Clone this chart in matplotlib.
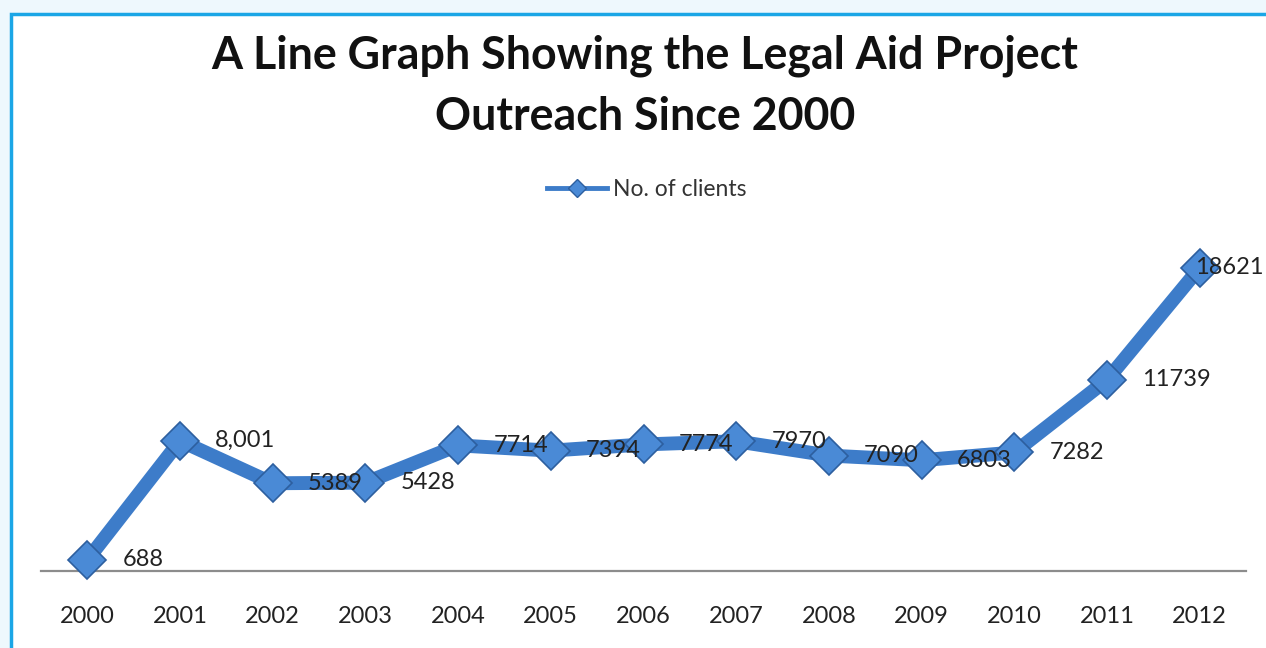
import matplotlib.pyplot as plt
from matplotlib.lines import Line2D
from matplotlib.patches import Rectangle

years = ['2000', '2001', '2002', '2003', '2004', '2005', '2006',
         '2007', '2008', '2009', '2010', '2011', '2012']
clients = [688, 8001, 5389, 5428, 7714, 7394, 7774, 7970, 7090, 6803, 7282, 11739, 18621]
labels = ['688', '8,001', '5389', '5428', '7714', '7394', '7774',
          '7970', '7090', '6803', '7282', '11739', '18621']

plt.rcParams['font.family'] = ['Lato', 'DejaVu Sans']

W, H = 1266, 648
fig = plt.figure(figsize=(W / 100, H / 100), dpi=100)
fig.patch.set_facecolor('#eef8fd')

# white chart area with the blue frame on top / left
fig.add_artist(Rectangle((11 / W, -0.1), 1.2, (H - 14) / H + 0.1,
                         transform=fig.transFigure, facecolor='white',
                         edgecolor='#1ba6e6', linewidth=2.5, zorder=-5))

ax = fig.add_axes([41 / W, (H - 571) / H, (1246 - 41) / W, (571 - 245.4) / H])
ax.set_zorder(2)
ax.set_facecolor('none')
x = list(range(len(years)))

line_col = '#3d7cc9'
ax.plot(x, clients, color=line_col, linewidth=10, solid_joinstyle='miter',
        zorder=3, clip_on=False)
ax.plot(x, clients, linestyle='none', marker='D', markersize=19,
        markerfacecolor='#4a8ad6', markeredgecolor='#2d5f9f',
        markeredgewidth=1.2, zorder=4, clip_on=False)

# labels sit right of each point; the last one is pulled in to stay inside
for i, (v, s) in enumerate(zip(clients, labels)):
    dx = -0.05 if i == len(x) - 1 else 0.38
    ax.text(i + dx, v, s, fontsize=17, color='#222222', ha='left',
            va='center', zorder=6, clip_on=False)

ax.set_xlim(-0.5, 12.5)
ax.set_ylim(0, 20000)
ax.set_xticks(x)
ax.set_xticklabels(years, fontsize=17, color='#222222')
ax.tick_params(axis='x', length=0, pad=25)
ax.set_yticks([])
for side in ['top', 'right', 'left']:
    ax.spines[side].set_visible(False)
ax.spines['bottom'].set_color('#8c8c8c')
ax.spines['bottom'].set_linewidth(1.6)
ax.spines['bottom'].set_zorder(1)

fig.text(645 / W, 1 - 86 / H, 'A Line Graph Showing the Legal Aid Project\nOutreach Since 2000',
         ha='center', va='center', fontsize=32.2, fontweight='bold',
         color='#111111', linespacing=1.55)

handle = Line2D([], [], color=line_col, linewidth=3.5, marker='D', markersize=9,
                markerfacecolor='#4a8ad6', markeredgecolor='#2d5f9f')
fig.legend([handle], ['No. of clients'], loc='center', bbox_to_anchor=(647 / W, 1 - 190 / H),
           frameon=False, fontsize=16.5, handlelength=2.6, handletextpad=0.3,
           labelcolor='#333333')

fig.savefig('out.png', dpi=100)
